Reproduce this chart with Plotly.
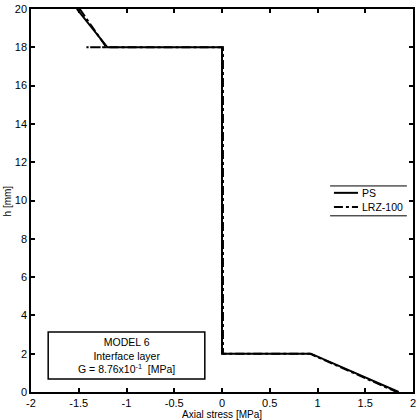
import plotly.graph_objects as go

# axial stress [MPa] vs height h [mm]
ps_stress = [-1.52, -1.20, 0.0, 0.0, 0.93, 1.85]
ps_h = [20.0, 18.0, 18.0, 2.0, 2.0, 0.0]

lrz_stress = [-1.49, -1.21, -1.42, 0.0, 0.01, 0.01, 0.92, 1.83]
lrz_h = [20.0, 18.0, 18.0, 18.0, 18.0, 2.0, 2.0, 0.0]

x_ticks = [-2, -1.5, -1, -0.5, 0, 0.5, 1, 1.5, 2]
x_labels = ["-2", "-1.5", "-1", "-0.5", "0", "0.5", "1", "1.5", "2"]
y_ticks = [0, 2, 4, 6, 8, 10, 12, 14, 16, 18, 20]

FONT = "Liberation Sans, Arial, sans-serif"

fig = go.Figure()
fig.add_trace(
    go.Scatter(
        x=ps_stress, y=ps_h, mode="lines", name="PS",
        line=dict(color="black", width=2),
    )
)
fig.add_trace(
    go.Scatter(
        x=lrz_stress, y=lrz_h, mode="lines", name="LRZ-100",
        line=dict(color="black", width=2, dash="dashdot"),
    )
)

axis_common = dict(
    showgrid=False, zeroline=False, showline=True, linecolor="black",
    linewidth=1.5, mirror="ticks", ticks="inside", ticklen=4,
    tickcolor="black", tickwidth=1.5, automargin=False,
    tickfont=dict(family=FONT, size=11, color="black"),
)

fig.update_layout(
    width=420, height=420,
    autosize=False,
    margin=dict(l=31, r=7, t=9, b=28),
    plot_bgcolor="white",
    paper_bgcolor="white",
    font=dict(family=FONT, size=11, color="black"),
    xaxis=dict(range=[-2, 2], tickvals=x_ticks, ticktext=x_labels,
               ticklabelstandoff=0, **axis_common),
    yaxis=dict(range=[0, 20], tickvals=y_ticks, **axis_common),
    showlegend=False,
)

# axis titles
fig.add_annotation(
    x=0.5, y=-0.059, xref="paper", yref="paper", yanchor="middle",
    text="Axial stress [MPa]", showarrow=False,
    font=dict(family=FONT, size=10, color="black"),
)
fig.add_annotation(
    x=-0.08, y=0.5, xref="paper", yref="paper", textangle=-90,
    text="h [mm]", showarrow=False,
    font=dict(family=FONT, size=10, color="black"),
)

# legend drawn as in the original figure
for yy in [0.538, 0.460]:
    fig.add_shape(
        type="line", xref="paper", yref="paper",
        x0=0.783, x1=0.984, y0=yy, y1=yy,
        line=dict(color="black", width=1),
    )
for name, yy, dash in [("PS", 0.520, "solid"), ("LRZ-100", 0.483, "dashdot")]:
    fig.add_shape(
        type="line", xref="paper", yref="paper",
        x0=0.793, x1=0.856, y0=yy, y1=yy,
        line=dict(color="black", width=2, dash=dash),
    )
    fig.add_annotation(
        x=0.861, y=yy, xref="paper", yref="paper", xanchor="left",
        text=name, showarrow=False,
        font=dict(family=FONT, size=10.5, color="black"),
    )

# model info box
fig.add_shape(
    type="rect", xref="x", yref="y",
    x0=-1.82, x1=-0.18, y0=0.68, y1=3.13,
    line=dict(color="black", width=1.5), fillcolor="white",
)
fig.add_annotation(
    x=-1.0, y=1.9, xref="x", yref="y", showarrow=False, align="center",
    text="MODEL 6<br>Interface layer<br>G = 8.76x10<sup>-1</sup>  [MPa]",
    font=dict(family=FONT, size=10.5, color="black"),
)

fig.write_html(
    "out.html",
    config={"displayModeBar": False},
    post_script="document.body.style.margin='0';",
)
